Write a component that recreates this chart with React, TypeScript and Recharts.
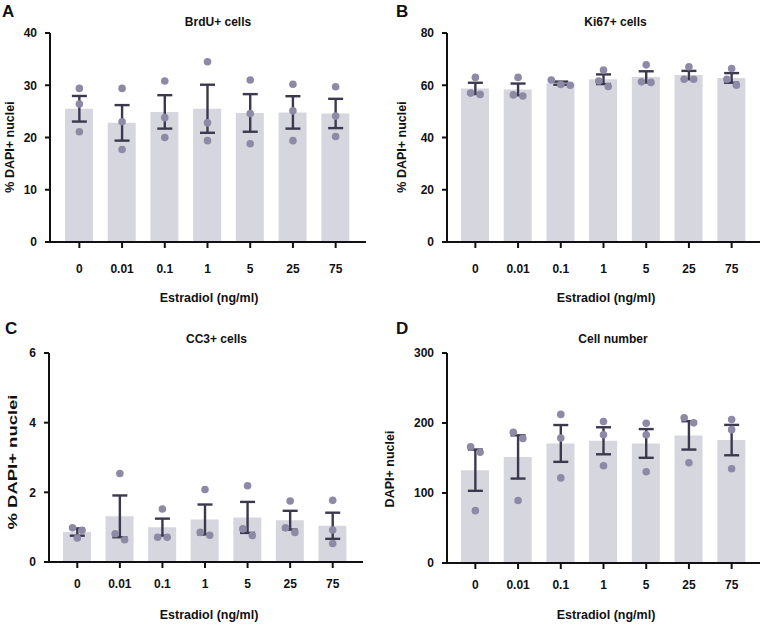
import React from 'react';
import { ComposedChart, Bar, Scatter, ErrorBar, XAxis, YAxis } from 'recharts';

const doses = ['0', '0.01', '0.1', '1', '5', '25', '75'];

// A - BrdU+ cells (% DAPI+ nuclei)
const brduMean = [25.5, 22.8, 24.9, 25.5, 24.7, 24.8, 24.6];
const brduSem = [2.45, 3.4, 3.2, 4.6, 3.6, 3.1, 2.8];
const brduReps = [
  [29.4, 26.4, 21.1], [29.4, 23.0, 17.7], [30.8, 23.8, 20.0], [34.5, 22.8, 19.4],
  [31.0, 24.6, 18.8], [30.2, 25.1, 19.4], [29.7, 24.1, 20.2],
];

// B - Ki67+ cells
const ki67Mean = [58.8, 58.4, 60.8, 62.3, 63.2, 63.9, 62.8];
const ki67Sem = [2.15, 2.25, 0.6, 1.85, 2.15, 1.6, 1.85];
const ki67Reps = [
  [63.0, 57.0, 56.5], [63.0, 56.3, 55.9], [62.0, 60.3, 60.0], [65.8, 61.6, 59.5],
  [67.8, 61.3, 61.1], [67.1, 62.3, 62.3], [66.4, 62.3, 60.0],
];

// C - CC3+ cells
const cc3Mean = [0.86, 1.31, 1.0, 1.22, 1.28, 1.2, 1.04];
const cc3Sem = [0.105, 0.6, 0.245, 0.43, 0.445, 0.27, 0.375];
const cc3Reps = [
  [0.98, 0.91, 0.69], [2.54, 0.81, 0.64], [1.52, 0.71, 0.71], [2.08, 0.85, 0.77],
  [2.19, 0.95, 0.76], [1.75, 0.98, 0.85], [1.77, 0.92, 0.53],
];

// D - cell number (DAPI+ nuclei)
const cellMean = [132.6, 151.5, 170.8, 174.6, 170.8, 182.3, 175.6];
const cellSem = [29.5, 30.9, 26.3, 19.3, 20.5, 20.25, 21.7];
const cellReps = [
  [165.9, 158.2, 74.8], [186.7, 178.0, 89.2], [212.3, 178.5, 121.6], [202.1, 183.3, 138.9],
  [199.7, 183.3, 130.3], [207.4, 200.2, 143.3], [205.0, 190.5, 134.6],
];

const FONT = '"Liberation Sans", Arial, Helvetica, sans-serif';
const INK = '#111';
const BAR_FILL = '#d6d6df';
const DOT_FILL = '#8e8aa6';
const ERR = '#3b394e';
const DOT_R = 3.8;
const DOT_GAP = 7; // vertical px below which dots collide
const SPREAD = 9.5; // horizontal px between collided dots

// spread overlapping replicate dots sideways, like a prism scatter plot
function swarmOffset(vals: number[], idx: number, ppu: number) {
  const order = vals.map((_, i) => i).sort((a, b) => vals[b] - vals[a]);
  const clusters: number[][] = [];
  order.forEach((i) => {
    const last = clusters[clusters.length - 1];
    if (last && (vals[last[last.length - 1]] - vals[i]) * ppu < DOT_GAP) last.push(i);
    else clusters.push([i]);
  });
  for (const c of clusters) {
    const k = c.indexOf(idx);
    if (k >= 0) return (k - (c.length - 1) / 2) * SPREAD;
  }
  return 0;
}

function makeDot(idx: number, ppu: number) {
  return (props: any) => {
    const { cx, cy, payload } = props;
    if (cx == null || cy == null) return <g />;
    const dx = swarmOffset([payload.r1, payload.r2, payload.r3], idx, ppu);
    return <circle cx={cx + dx} cy={cy} r={DOT_R} fill={DOT_FILL} />;
  };
}

type PanelProps = {
  left: number;
  top: number;
  width: number;
  height: number;
  letter: string;
  letterPos: [number, number];
  title: string;
  titlePos: [number, number];
  yLabel: string;
  yLabelPos: [number, number];
  yLabelLength?: number;
  xLabelPos: [number, number];
  mean: number[];
  sem: number[];
  reps: number[][];
  yMax: number;
  yTicks: number[];
  marginTop: number;
  marginRight: number;
  yAxisWidth: number;
  xAxisHeight: number;
  pad: { left: number; right: number };
  tickMargin: number;
};

const tickStyle = { fill: INK, fontSize: 12, fontWeight: 700, fontFamily: FONT };
const axisStroke = { stroke: INK, strokeWidth: 2 };

function Panel(p: PanelProps) {
  const rows = doses.map((d, i) => ({
    dose: d,
    mean: p.mean[i],
    sem: p.sem[i],
    r1: p.reps[i][0],
    r2: p.reps[i][1],
    r3: p.reps[i][2],
  }));
  const plotH = p.height - p.marginTop - p.xAxisHeight;
  const ppu = plotH / p.yMax;

  return (
    <div style={{ position: 'absolute', left: p.left, top: p.top, width: p.width, height: p.height }}>
      <ComposedChart
        width={p.width}
        height={p.height}
        data={rows}
        margin={{ top: p.marginTop, right: p.marginRight, bottom: 0, left: 0 }}
      >
        <XAxis
          dataKey="dose"
          interval={0}
          height={p.xAxisHeight}
          padding={p.pad}
          tickSize={6}
          tickMargin={p.tickMargin}
          tick={tickStyle}
          axisLine={axisStroke}
          tickLine={axisStroke}
        />
        <YAxis
          type="number"
          domain={[0, p.yMax]}
          ticks={p.yTicks}
          width={p.yAxisWidth}
          tickSize={5}
          tickMargin={8}
          tick={tickStyle}
          axisLine={axisStroke}
          tickLine={axisStroke}
        />
        <Bar dataKey="mean" fill={BAR_FILL} barSize={28} isAnimationActive={false} />
        <Scatter dataKey="r1" shape={makeDot(0, ppu)} isAnimationActive={false} />
        <Scatter dataKey="r2" shape={makeDot(1, ppu)} isAnimationActive={false} />
        <Scatter dataKey="r3" shape={makeDot(2, ppu)} isAnimationActive={false} />
        <Scatter dataKey="mean" shape={() => <g />} isAnimationActive={false}>
          <ErrorBar dataKey="sem" direction="y" width={7.5} stroke={ERR} strokeWidth={2.4} />
        </Scatter>
      </ComposedChart>
      <svg
        width={p.width}
        height={p.height}
        style={{ position: 'absolute', left: 0, top: 0, pointerEvents: 'none' }}
        fontFamily={FONT}
        fontWeight={700}
        fill={INK}
      >
        <text x={p.letterPos[0]} y={p.letterPos[1]} fontSize={17}>{p.letter}</text>
        <text x={p.titlePos[0]} y={p.titlePos[1]} fontSize={12} textAnchor="middle">{p.title}</text>
        <text
          x={p.yLabelPos[0]}
          y={p.yLabelPos[1]}
          fontSize={12.5}
          textAnchor="middle"
          dominantBaseline="central"
          transform={`rotate(-90 ${p.yLabelPos[0]} ${p.yLabelPos[1]})`}
          textLength={p.yLabelLength}
          lengthAdjust={p.yLabelLength ? 'spacingAndGlyphs' : undefined}
        >
          {p.yLabel}
        </text>
        <text x={p.xLabelPos[0]} y={p.xLabelPos[1]} fontSize={12.5} textAnchor="middle">Estradiol (ng/ml)</text>
      </svg>
    </div>
  );
}

export default function App() {
  return (
    <div style={{ position: 'absolute', left: 0, top: 0, width: 761, height: 624, background: '#fff' }}>
      <Panel
        left={0} top={0} width={380} height={310}
        letter="A" letterPos={[2, 17]}
        title="BrdU+ cells" titlePos={[218, 26]}
        yLabel="% DAPI+ nuclei" yLabelPos={[10, 147]}
        xLabelPos={[209, 301.5]}
        mean={brduMean} sem={brduSem} reps={brduReps}
        yMax={40} yTicks={[0, 10, 20, 30, 40]}
        marginTop={33} marginRight={14} yAxisWidth={50} xAxisHeight={68}
        pad={{ left: 8, right: 9 }} tickMargin={16}
      />
      <Panel
        left={380} top={0} width={381} height={310}
        letter="B" letterPos={[16, 17]}
        title="Ki67+ cells" titlePos={[235.5, 26]}
        yLabel="% DAPI+ nuclei" yLabelPos={[22, 147]}
        xLabelPos={[226, 301.5]}
        mean={ki67Mean} sem={ki67Sem} reps={ki67Reps}
        yMax={80} yTicks={[0, 20, 40, 60, 80]}
        marginTop={33} marginRight={1} yAxisWidth={67} xAxisHeight={68}
        pad={{ left: 7, right: 7 }} tickMargin={16}
      />
      <Panel
        left={0} top={310} width={380} height={314}
        letter="C" letterPos={[5, 24]}
        title="CC3+ cells" titlePos={[216.5, 33]}
        yLabel="% DAPI+ nuclei" yLabelPos={[13, 152]} yLabelLength={135}
        xLabelPos={[209, 309]}
        mean={cc3Mean} sem={cc3Sem} reps={cc3Reps}
        yMax={6} yTicks={[0, 2, 4, 6]}
        marginTop={43} marginRight={17} yAxisWidth={49} xAxisHeight={62}
        pad={{ left: 7, right: 9 }} tickMargin={11}
      />
      <Panel
        left={380} top={310} width={381} height={314}
        letter="D" letterPos={[16, 24]}
        title="Cell number" titlePos={[233, 33]}
        yLabel="DAPI+ nuclei" yLabelPos={[10, 159]}
        xLabelPos={[226, 309]}
        mean={cellMean} sem={cellSem} reps={cellReps}
        yMax={300} yTicks={[0, 100, 200, 300]}
        marginTop={43} marginRight={1} yAxisWidth={67} xAxisHeight={61}
        pad={{ left: 7, right: 7 }} tickMargin={11}
      />
    </div>
  );
}
